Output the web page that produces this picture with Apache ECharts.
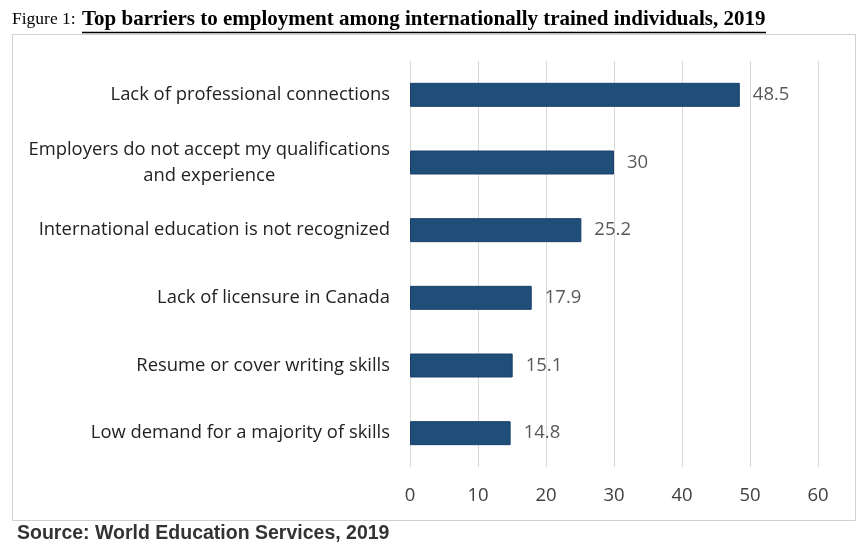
<!DOCTYPE html>
<html><head><meta charset="utf-8">
<script src="https://cdn.jsdelivr.net/npm/echarts@6/dist/echarts.min.js"></script>
<style>html,body{margin:0;padding:0;background:#fff}#c{width:866px;height:546px}</style>
</head><body><div id="c"></div>
<script>
const categories = [
  "Lack of professional connections",
  "Employers do not accept my qualifications\nand experience",
  "International education is not recognized",
  "Lack of licensure in Canada",
  "Resume or cover writing skills",
  "Low demand for a majority of skills"
];
const values = [48.5, 30, 25.2, 17.9, 15.1, 14.8];
const xTicks = [0, 10, 20, 30, 40, 50, 60];

const chart = echarts.init(document.getElementById('c'), null, {renderer: 'canvas'});
chart.setOption({
  backgroundColor: '#fff',
  animation: false,
  graphic: [
    {type: 'rect', shape: {x: 12.5, y: 34.5, width: 843, height: 486}, style: {fill: null, stroke: '#d0d0d0', lineWidth: 1}, z: -1},
    {type: 'text', x: 12, y: 28.5, style: {text: 'Figure 1: ', font: '17.5px "Liberation Serif"', fill: '#000', textVerticalAlign: 'bottom', verticalAlign: 'bottom'}},
    {type: 'text', x: 82, y: 30, style: {text: 'Top barriers to employment among internationally trained individuals, 2019', font: 'bold 21px "Liberation Serif"', fill: '#000', textVerticalAlign: 'bottom', verticalAlign: 'bottom'}},
    {type: 'line', shape: {x1: 82, y1: 32.5, x2: 766, y2: 32.5}, style: {stroke: '#000', lineWidth: 1.5}},
    {type: 'text', left: 17, top: 524, style: {text: 'Source: World Education Services, 2019', font: 'bold 19.5px "Liberation Sans"', fill: '#333'}}
  ],
  grid: {left: 410, right: 48, top: 61, bottom: 79, containLabel: false},
  xAxis: {
    type: 'value', min: 0, max: 60, interval: 10,
    axisLine: {show: false}, axisTick: {show: false},
    splitLine: {lineStyle: {color: '#d9d9d9', width: 1}},
    axisLabel: {color: '#404040', fontSize: 18.5, fontFamily: '"Open Sans", sans-serif', margin: 19,
      formatter: v => xTicks.includes(v) ? String(v) : ''}
  },
  yAxis: {
    type: 'category', data: categories, inverse: true,
    axisLine: {show: false}, axisTick: {show: false},
    axisLabel: {
      margin: 20, color: '#222', fontSize: 18.4, fontFamily: '"Open Sans", sans-serif', lineHeight: 26,
      formatter: v => v.split('\n').map(s => '{c|' + s + '}').join('\n'),
      rich: {c: {align: 'center', fontSize: 18.4, fontFamily: '"Open Sans", sans-serif', color: '#222', lineHeight: 26}}
    }
  },
  series: [{
    type: 'bar', data: values, barWidth: 24,
    itemStyle: {color: '#1f4e79', borderColor: '#1a416a', borderWidth: 1},
    label: {show: true, position: 'right', distance: 13, color: '#595959', fontSize: 18.5, fontFamily: '"Open Sans", sans-serif'}
  }]
});
</script></body></html>
